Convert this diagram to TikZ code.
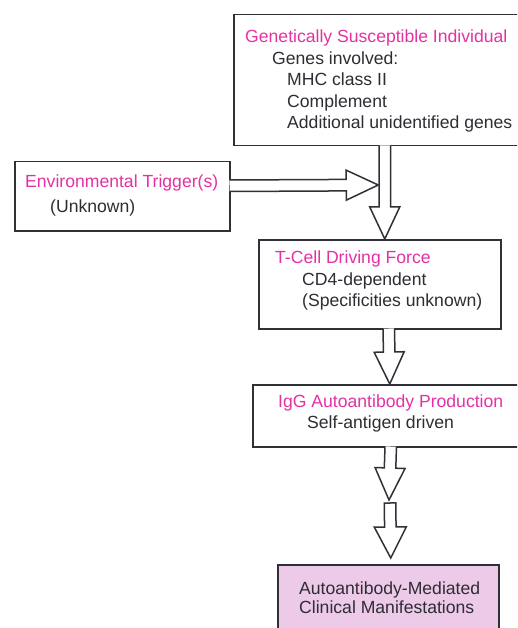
\documentclass[tikz,border=0pt]{standalone}
\usepackage{fontspec}
\setmainfont{Liberation Sans}
\usetikzlibrary{calc}

\definecolor{hotpink}{RGB}{228,50,162}
\definecolor{inktext}{RGB}{45,45,52}
\definecolor{inkline}{RGB}{48,48,55}
\definecolor{clinfill}{RGB}{236,202,232}

\tikzset{
  box/.style={draw=inkline, line width=1.5pt, rectangle, inner sep=0pt, anchor=north west},
  head/.style={font=\fontsize{17.6}{21.5}\selectfont, text=hotpink, anchor=base west, inner sep=0pt},
  txt/.style={font=\fontsize{17.6}{21.5}\selectfont, text=inktext, anchor=base west, inner sep=0pt},
  along/.style={shift={(\p1)}, rotate=\n2},
  % open at the tail, so it merges into the box it leaves
  hollow/.style={draw=inkline, line width=1.5pt, fill=white, to path={
    let \p1=(\tikztostart), \p2=(\tikztotarget),
        \n1={veclen(\x2-\x1,\y2-\y1)}, \n2={atan2(\y2-\y1,\x2-\x1)} in
    ([along]0pt,5.75pt) -- ([along]\n1-32pt,5.75pt) -- ([along]\n1-32pt,15pt)
    -- ([along]\n1,0pt) -- ([along]\n1-32pt,-15pt) -- ([along]\n1-32pt,-5.75pt)
    -- ([along]0pt,-5.75pt)}},
  hollow closed/.style={draw=inkline, line width=1.5pt, fill=white, to path={
    let \p1=(\tikztostart), \p2=(\tikztotarget),
        \n1={veclen(\x2-\x1,\y2-\y1)}, \n2={atan2(\y2-\y1,\x2-\x1)} in
    ([along]0pt,5.75pt) -- ([along]\n1-31pt,5.75pt) -- ([along]\n1-31pt,16pt)
    -- ([along]\n1,0pt) -- ([along]\n1-31pt,-16pt) -- ([along]\n1-31pt,-5.75pt)
    -- ([along]0pt,-5.75pt) -- cycle}}
}

\begin{document}
\begin{tikzpicture}[x=1pt, y=-1pt]
  \clip (0,0) rectangle (517,628);
  \fill[white] (0,0) rectangle (517,628);

  % boxes
  \node[box, minimum width=300, minimum height=131] (gen) at (233,14) {};
  \node[box, minimum width=215, minimum height=69] (env) at (14,161) {};
  \node[box, minimum width=242, minimum height=89] (tcell) at (258,239) {};
  \node[box, minimum width=280, minimum height=62] (igg) at (252,384) {};
  \node[box, fill=clinfill, minimum width=221, minimum height=80] (clin) at (277,564) {};

  % texts
  \node[head] (gen1) at (245,43) {Genetically Susceptible Individual};
  \node[txt] (gen2) at (272,65) {Genes involved:};
  \node[txt] (gen3) at (287,86) {MHC class II};
  \node[txt] (gen4) at (287,108) {Complement};
  \node[txt] (gen5) at (287,129) {Additional unidentified genes};

  \node[head] (env1) at (25,188) {Environmental Trigger(s)};
  \node[txt] (env2) at (50,212) {(Unknown)};

  \node[head] (tcell1) at (275,263) {T-Cell Driving Force};
  \node[txt] (tcell2) at (302,285) {CD4-dependent};
  \node[txt] (tcell3) at (302,306) {(Specificities unknown)};

  \node[head] (igg1) at (278,407) {IgG Autoantibody Production};
  \node[txt] (igg2) at (307,428) {Self-antigen driven};

  \node[txt] (clin1) at (299,594) {Autoantibody-Mediated};
  \node[txt] (clin2) at (299,613) {Clinical Manifestations};

  % arrows
  \coordinate (join) at (378.25,185);
  \coordinate (igg-tip) at (389,500);
  \coordinate (rel) at (390,503);
  \draw[hollow] ([xshift=1,yshift=1]gen.south) to ([xshift=5]tcell.north);
  \draw[hollow] ([xshift=-1,yshift=10.5]env.east) to (join);
  \draw[hollow] ([xshift=9,yshift=1]tcell.south) to ([xshift=-3]igg.north);
  \draw[hollow] ([xshift=-2,yshift=1]igg.south) to (igg-tip);
  \draw[hollow closed] (rel) to ([xshift=2.5,yshift=6]clin.north);
\end{tikzpicture}
\end{document}
